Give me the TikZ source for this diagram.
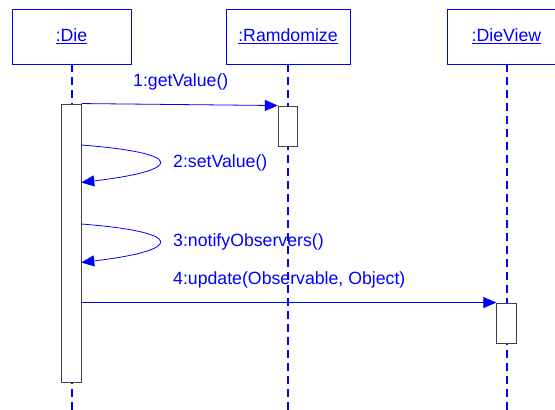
\documentclass[tikz,border=0pt]{standalone}
\usepackage{fontspec}
\setmainfont{Liberation Sans}
\usetikzlibrary{arrows.meta}
\definecolor{umlblue}{RGB}{0,0,255}
\tikzset{
  objbox/.style={draw=umlblue, line width=0.9pt, fill=white, minimum width=119pt, minimum height=55pt, inner sep=0pt, text=umlblue, font=\fontsize{17.7}{20}\selectfont},
  actbox/.style={draw=black!75, line width=0.9pt, fill=white, minimum width=19.5pt, inner sep=0pt},
  lifeline/.style={draw=umlblue, line width=2pt, dash pattern=on 8pt off 5pt},
  msg/.style={draw=umlblue, line width=0.8pt, -{Triangle[length=13pt,width=11pt]}},
  msglabel/.style={text=umlblue, anchor=west, inner sep=0pt, font=\fontsize{17.7}{20}\selectfont},
}
\begin{document}
\begin{tikzpicture}[x=1pt,y=-1pt]
\useasboundingbox (0,0) rectangle (555,410);
\clip (0,0) rectangle (555,410);
% objects
\node[objbox] (die) at (71.5,36.5) {\underline{:Die}};
\node[objbox, minimum width=124pt] (ram) at (288,36.5) {\underline{:Ramdomize}};
\node[objbox] (dv) at (506.5,36.5) {\underline{:DieView}};
% lifeline ends
\coordinate (dieend) at (71.5,412);
\coordinate (ramend) at (288,412);
\coordinate (dvend) at (506.5,412);
\draw[lifeline] (die.south) -- (dieend);
\draw[lifeline] (ram.south) -- (ramend);
\draw[lifeline] (dv.south) -- (dvend);
% activations
\node[actbox, minimum height=278pt] (dieact) at (71.5,243) {};
\node[actbox, minimum height=40pt] (ramact) at (288,126) {};
\node[actbox, minimum height=40pt] (dvact) at (506.5,323) {};
% message 1
\draw[msg] (dieact.north east) -- (ramact.north west);
\node[msglabel] (l1) at (133,82) {1:getValue()};
% message 2 (self)
\coordinate (s2a) at (81.25,145);
\coordinate (s2b) at (81.25,182.5);
\draw[msg] (s2a) .. controls (185,153) and (185,170) .. (s2b);
\node[msglabel] (l2) at (173,163) {2:setValue()};
% message 3 (self)
\coordinate (s3a) at (81.25,224);
\coordinate (s3b) at (81.25,262.5);
\draw[msg] (s3a) .. controls (185,232) and (185,250) .. (s3b);
\node[msglabel] (l3) at (173,242) {3:notifyObservers()};
% message 4
\coordinate (s4a) at (dieact.east |- dvact.north west);
\draw[msg] (s4a) -- (dvact.north west);
\node[msglabel] (l4) at (173,280) {4:update(Observable, Object)};
\end{tikzpicture}
\end{document}
